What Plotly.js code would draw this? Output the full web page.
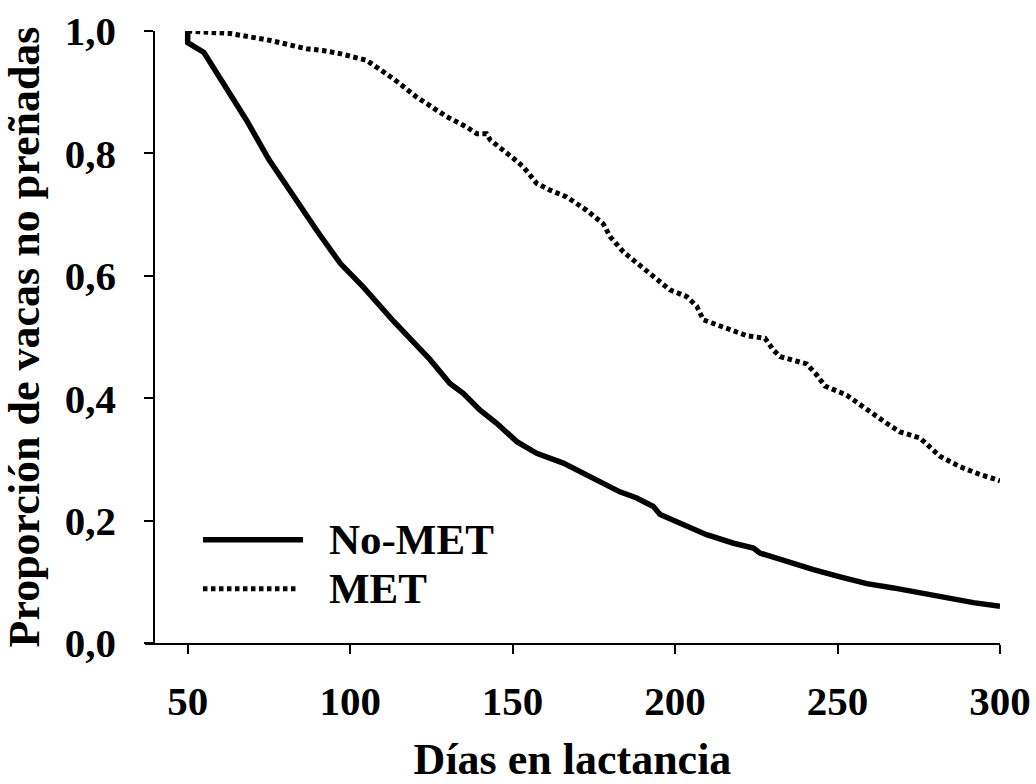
<!DOCTYPE html>
<html>
<head>
<meta charset="utf-8">
<script src="https://cdn.plot.ly/plotly-3.0.1.min.js"></script>
<style>html,body{margin:0;padding:0;background:#fff;}#chart{width:1036px;height:784px;}</style>
</head>
<body>
<div id="chart"></div>
<script>
// No-MET (solid)
const noMetDays = [50, 50, 55, 61, 68, 75, 82.5, 90, 97, 104, 113.5, 121.5, 124.6, 130.7, 134.8, 139.9, 145.1, 151.3, 157.4, 165.6, 169.7, 175.8, 183, 188.2, 193.3, 195.4, 203.6, 209.7, 218, 224.1, 226.1, 234.4, 242.6, 250.8, 259, 267.2, 275.4, 283.6, 291.8, 300];
const noMetVals = [1.0, 0.981, 0.965, 0.914, 0.855, 0.790, 0.729, 0.672, 0.620, 0.582, 0.525, 0.481, 0.463, 0.424, 0.408, 0.381, 0.359, 0.329, 0.310, 0.294, 0.283, 0.267, 0.247, 0.237, 0.223, 0.210, 0.190, 0.177, 0.163, 0.155, 0.147, 0.133, 0.120, 0.108, 0.097, 0.090, 0.082, 0.072, 0.066, 0.060];

// MET (dotted)
const metDays = [50, 63, 75, 79.4, 86.6, 91.7, 96.9, 105.1, 113.3, 120.5, 129.7, 135.9, 139, 142, 143.1, 150.2, 153.3, 157.4, 161.5, 166.6, 172.8, 177.9, 180, 184.1, 192.3, 198.4, 203.6, 206.7, 208.7, 215.9, 222.1, 227.7, 230.2, 232.3, 240.5, 243.6, 246.1, 252.8, 259, 265.1, 269.2, 275.4, 277, 281.6, 287.7, 294, 299, 300];
const metVals = [1.0, 0.996, 0.985, 0.980, 0.971, 0.968, 0.963, 0.952, 0.922, 0.892, 0.860, 0.843, 0.832, 0.832, 0.822, 0.792, 0.778, 0.751, 0.740, 0.729, 0.707, 0.685, 0.664, 0.639, 0.604, 0.577, 0.566, 0.550, 0.528, 0.514, 0.502, 0.498, 0.479, 0.468, 0.456, 0.438, 0.420, 0.405, 0.381, 0.359, 0.345, 0.335, 0.327, 0.305, 0.288, 0.275, 0.267, 0.265];

const xTickVals = [50, 100, 150, 200, 250, 300];
const yTickVals = [0, 0.2, 0.4, 0.6, 0.8, 1.0];
const seriesNames = ['No-MET', 'MET'];

const FONT = 'Liberation Serif';
const f = (size) => ({family: FONT, size: size, weight: 'bold', color: '#000'});

const traces = [
  {x: noMetDays, y: noMetVals, name: seriesNames[0], mode: 'lines', line: {color: '#000', width: 5.5}},
  {x: metDays, y: metVals, name: seriesNames[1], mode: 'lines', line: {color: '#000', width: 5, dash: '4.5px,3.5px'}}
];

const layout = {
  width: 1036, height: 784,
  margin: {l: 145, r: 36, t: 31, b: 141},
  paper_bgcolor: '#fff', plot_bgcolor: '#fff',
  separators: ',.',
  showlegend: false,
  xaxis: {
    range: [36.86, 300], fixedrange: true,
    tickvals: xTickVals, ticktext: xTickVals.map(String),
    showline: true, linecolor: '#000', linewidth: 2,
    ticks: 'outside', ticklen: 9, tickwidth: 2, tickcolor: '#000',
    showgrid: false, zeroline: false,
    tickfont: f(41),
    ticklabelstandoff: 12,
    title: {text: 'Días en lactancia', font: f(44), standoff: 30}
  },
  yaxis: {
    range: [0, 1], fixedrange: true,
    anchor: 'free', position: 0.0109,
    tickvals: yTickVals, tickformat: '.1f',
    showline: true, linecolor: '#000', linewidth: 2,
    ticks: 'outside', ticklen: 9, tickwidth: 2, tickcolor: '#000',
    showgrid: false, zeroline: false,
    tickfont: f(41),
    ticklabelstandoff: 20,
    title: {text: 'Proporción de vacas no preñadas', font: f(44), standoff: 15}
  },
  shapes: [
    {type: 'line', xref: 'paper', yref: 'paper', x0: 0.0678, x1: 0.1848, y0: 0.1687, y1: 0.1687, line: {color: '#000', width: 5.5}},
    {type: 'line', xref: 'paper', yref: 'paper', x0: 0.0678, x1: 0.1778, y0: 0.0887, y1: 0.0887, line: {color: '#000', width: 5, dash: '4.5px,3.5px'}}
  ],
  annotations: [
    {xref: 'paper', yref: 'paper', x: 0.2129, y: 0.1687, xanchor: 'left', yanchor: 'middle', showarrow: false, text: seriesNames[0], font: f(43)},
    {xref: 'paper', yref: 'paper', x: 0.2129, y: 0.0887, xanchor: 'left', yanchor: 'middle', showarrow: false, text: seriesNames[1], font: f(43)}
  ]
};

Plotly.newPlot('chart', traces, layout, {displayModeBar: false});
</script>
</body>
</html>
